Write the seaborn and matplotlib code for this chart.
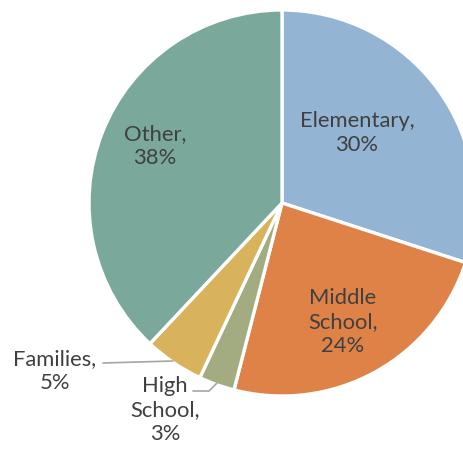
import matplotlib
matplotlib.use("Agg")
import matplotlib.pyplot as plt
import seaborn as sns

sns.set_style("white")
plt.rcParams['font.family'] = ['Lato', 'DejaVu Sans']

categories = ["Elementary", "Middle School", "High School", "Families", "Other"]
values = [30, 24, 3, 5, 38]
label_texts = ["Elementary,\n30%", "Middle\nSchool,\n24%", "High\nSchool,\n3%", "Families,\n5%", "Other,\n38%"]
colors = ["#93B5D3", "#DF8248", "#A3AC80", "#D8B35B", "#7AA89B"]

W, H = 463, 450
fig = plt.figure(figsize=(W / 100, H / 100), dpi=100)
ax = fig.add_axes([0, 0, 1, 1])

cx, cy, r = 282, H - 203, 193
ax.pie(values, colors=colors, startangle=90, counterclock=False,
       center=(cx, cy), radius=r, frame=True,
       wedgeprops=dict(edgecolor="white", linewidth=2.4))
ax.set_xlim(0, W)
ax.set_ylim(0, H)
ax.set_aspect("equal")
ax.axis("off")

tc = "#404040"
fs = 15.8
pos = {
    "Elementary": (357, 133),
    "Middle School": (343, 322),
    "High School": (165, 410),
    "Families": (55, 371),
    "Other": (155, 146),
}
for cat, txt in zip(categories, label_texts):
    x, y = pos[cat]
    ax.text(x, H - y, txt, ha="center", va="center", color=tc, fontsize=fs,
            linespacing=1.25)

lc = "#A6A6A6"
ax.plot([103, 173], [H - 363, H - 361], color=lc, lw=1.2)
ax.plot([193, 209, 217], [H - 391, H - 391, H - 383], color=lc, lw=1.2)

fig.savefig("out.png", dpi=100)
